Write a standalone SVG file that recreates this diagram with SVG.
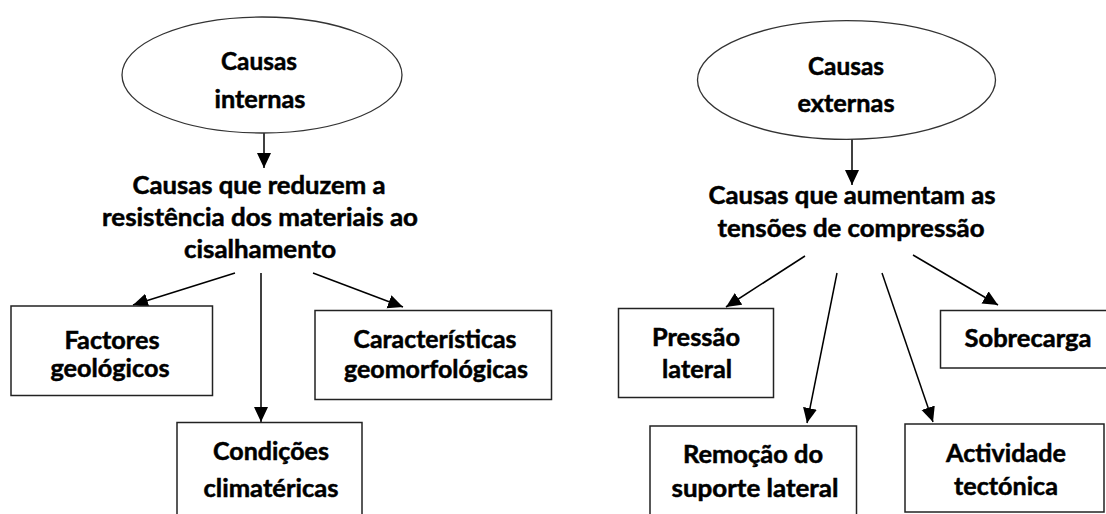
<svg xmlns="http://www.w3.org/2000/svg" width="1106" height="514" viewBox="0 0 1106 514">
<defs>
<marker id="ah" markerUnits="userSpaceOnUse" markerWidth="16" markerHeight="15" refX="15" refY="7" orient="auto">
<path d="M0,0 L15,7 L0,14 z" fill="#000"/>
</marker>
<style>
.t{font-family:Lato,"Open Sans","Liberation Sans",sans-serif;font-weight:700;font-size:24px;fill:#000;stroke:#000;stroke-width:0.5;text-anchor:middle}
.box{fill:#fff;stroke:#222;stroke-width:1.5}
.ell{fill:#fff;stroke:#333;stroke-width:1.3}
.c{stroke:#000;stroke-width:1.5;fill:none;marker-end:url(#ah)}
</style>
</defs>
<rect width="1106" height="514" fill="#fff"/>
<g id="connectors">
<line class="c" x1="264" y1="133" x2="264" y2="168"/>
<line class="c" x1="235" y1="273" x2="133" y2="305"/>
<line class="c" x1="261" y1="273" x2="261" y2="422"/>
<line class="c" x1="313" y1="273" x2="403" y2="307"/>
<line class="c" x1="852" y1="139" x2="852" y2="185"/>
<line class="c" x1="805" y1="256" x2="726" y2="307"/>
<line class="c" x1="837" y1="273" x2="807" y2="423"/>
<line class="c" x1="882" y1="273" x2="933" y2="422"/>
<line class="c" x1="913" y1="255" x2="998" y2="305"/>
</g>
<g id="causas-internas">
<ellipse class="ell" cx="262" cy="75" rx="140" ry="58"/>
<text class="t" x="259" y="70" textLength="76" lengthAdjust="spacingAndGlyphs">Causas</text>
<text class="t" x="260" y="108" textLength="91" lengthAdjust="spacingAndGlyphs">internas</text>
</g>
<g id="reduzem">
<text class="t" x="259" y="194" textLength="253" lengthAdjust="spacingAndGlyphs">Causas que reduzem a</text>
<text class="t" x="260" y="226" textLength="316" lengthAdjust="spacingAndGlyphs">resistência dos materiais ao</text>
<text class="t" x="260" y="258" textLength="152" lengthAdjust="spacingAndGlyphs">cisalhamento</text>
</g>
<g id="factores">
<rect class="box" x="11" y="306" width="201.5" height="89.5"/>
<text class="t" x="112" y="349" textLength="95" lengthAdjust="spacingAndGlyphs">Factores</text>
<text class="t" x="110" y="377" textLength="119" lengthAdjust="spacingAndGlyphs">geológicos</text>
</g>
<g id="condicoes">
<rect class="box" x="177" y="422.5" width="185" height="110"/>
<text class="t" x="271" y="460" textLength="116" lengthAdjust="spacingAndGlyphs">Condições</text>
<text class="t" x="271" y="497" textLength="135" lengthAdjust="spacingAndGlyphs">climatéricas</text>
</g>
<g id="caracteristicas">
<rect class="box" x="315" y="310.5" width="236.5" height="89"/>
<text class="t" x="435" y="348" textLength="163" lengthAdjust="spacingAndGlyphs">Características</text>
<text class="t" x="436" y="378" textLength="184" lengthAdjust="spacingAndGlyphs">geomorfológicas</text>
</g>
<g id="causas-externas">
<ellipse class="ell" cx="846.5" cy="80" rx="149" ry="59.3"/>
<text class="t" x="846" y="75" textLength="76" lengthAdjust="spacingAndGlyphs">Causas</text>
<text class="t" x="846" y="112" textLength="97" lengthAdjust="spacingAndGlyphs">externas</text>
</g>
<g id="aumentam">
<text class="t" x="852" y="204" textLength="287" lengthAdjust="spacingAndGlyphs">Causas que aumentam as</text>
<text class="t" x="851" y="237" textLength="267" lengthAdjust="spacingAndGlyphs">tensões de compressão</text>
</g>
<g id="pressao">
<rect class="box" x="618.5" y="308.5" width="155" height="89"/>
<text class="t" x="696" y="346" textLength="88" lengthAdjust="spacingAndGlyphs">Pressão</text>
<text class="t" x="697" y="378" textLength="70" lengthAdjust="spacingAndGlyphs">lateral</text>
</g>
<g id="remocao">
<rect class="box" x="650" y="426" width="206.5" height="110"/>
<text class="t" x="753" y="463" textLength="140" lengthAdjust="spacingAndGlyphs">Remoção do</text>
<text class="t" x="755" y="497" textLength="167" lengthAdjust="spacingAndGlyphs">suporte lateral</text>
</g>
<g id="sobrecarga">
<rect class="box" x="940.5" y="310.5" width="170" height="57.5"/>
<text class="t" x="1028" y="347" textLength="127" lengthAdjust="spacingAndGlyphs">Sobrecarga</text>
</g>
<g id="actividade">
<rect class="box" x="905" y="424" width="199" height="88"/>
<text class="t" x="1006" y="462" textLength="120" lengthAdjust="spacingAndGlyphs">Actividade</text>
<text class="t" x="1006" y="495" textLength="104" lengthAdjust="spacingAndGlyphs">tectónica</text>
</g>
</svg>
